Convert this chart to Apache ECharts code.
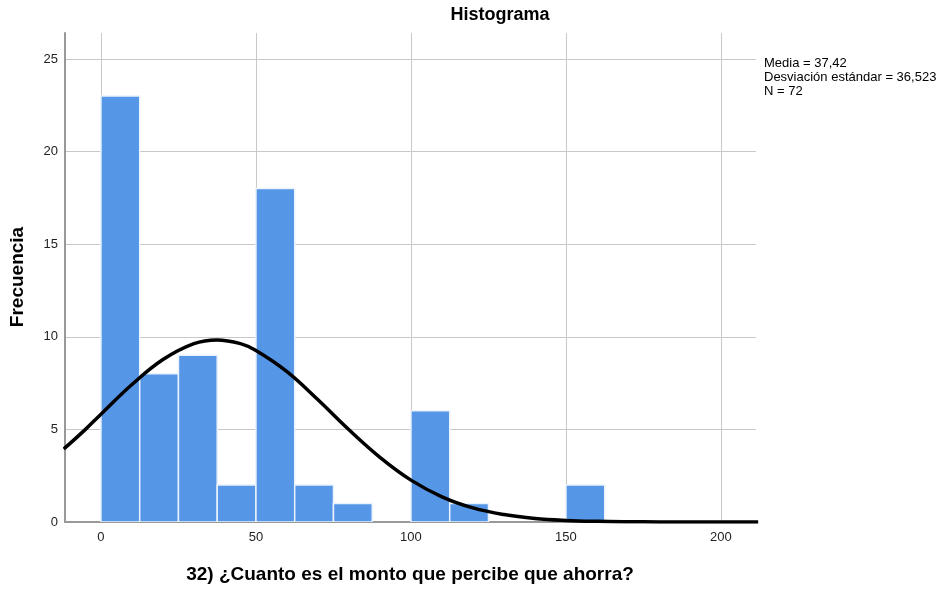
<!DOCTYPE html>
<html>
<head>
<meta charset="utf-8">
<script src="https://cdn.jsdelivr.net/npm/echarts@6/dist/echarts.min.js"></script>
<style>html,body{margin:0;padding:0;background:#fff;}#c{width:942px;height:590px;}</style>
</head>
<body>
<div id="c"></div>
<script>
var binEdges = [0, 12.5, 25, 37.5, 50, 62.5, 75, 87.5, 100, 112.5, 125, 137.5, 150, 162.5];
var counts = [23, 8, 9, 2, 18, 2, 1, 0, 6, 1, 0, 0, 2];
var xTicks = [0, 50, 100, 150, 200];
var yTicks = [0, 5, 10, 15, 20, 25];
var curveX = [-12, -5, 0, 10, 20, 30, 37.4, 45, 50, 60, 70, 80, 90, 100, 110, 120, 130, 140, 150, 160, 170, 180, 200, 212];
var curveY = [3.94, 5.0, 5.82, 7.42, 8.77, 9.63, 9.83, 9.63, 9.26, 8.12, 6.60, 4.98, 3.49, 2.26, 1.36, 0.76, 0.40, 0.19, 0.085, 0.035, 0.013, 0.005, 0.0, 0.0];
var statsLines = ['Media = 37,42', 'Desviación estándar = 36,523', 'N = 72'];
var titleText = 'Histograma';
var xName = '32) ¿Cuanto es el monto que percibe que ahorra?';
var yName = 'Frecuencia';

var barData = [];
for (var i = 0; i < counts.length; i++) {
  if (counts[i] > 0) barData.push([binEdges[i], binEdges[i + 1], counts[i]]);
}
var curveData = curveX.map(function (x, i) { return [x, curveY[i]]; });

var chart = echarts.init(document.getElementById('c'), null, {renderer: 'canvas'});
var font = 'Liberation Sans, Arial, sans-serif';
chart.setOption({
  animation: false,
  backgroundColor: '#fff',
  grid: {left: 65, right: 186, top: 33, bottom: 68, containLabel: false},
  xAxis: {
    type: 'value', min: -11.6, max: 211.3,
    axisLine: {show: true, onZero: false, lineStyle: {color: '#999', width: 2}},
    axisTick: {show: false, customValues: xTicks},
    axisLabel: {customValues: xTicks, color: '#222', fontSize: 13, fontFamily: font, margin: 9},
    splitLine: {show: true, lineStyle: {color: '#c8c8c8', width: 1}}
  },
  yAxis: {
    type: 'value', min: 0, max: 26.4,
    axisLine: {show: true, onZero: false, lineStyle: {color: '#999', width: 2}},
    axisTick: {show: false, customValues: yTicks},
    axisLabel: {customValues: yTicks, color: '#222', fontSize: 13, fontFamily: font, margin: 7},
    splitLine: {show: true, lineStyle: {color: '#c8c8c8', width: 1}}
  },
  graphic: [
    {type: 'text', x: 500, y: 6, style: {text: titleText, font: 'bold 18px ' + font, fill: '#000', textAlign: 'center'}},
    {type: 'text', x: 410, y: 565, style: {text: xName, font: 'bold 19px ' + font, fill: '#000', textAlign: 'center'}},
    {type: 'text', x: 8, y: 277, rotation: Math.PI / 2, style: {text: yName, font: 'bold 19px ' + font, fill: '#000', textAlign: 'center', textVerticalAlign: 'top'}},
    {type: 'text', x: 764, y: 56, style: {text: statsLines.join('\n'), font: '13px ' + font, lineHeight: 14, fill: '#000'}}
  ],
  series: [
    {
      type: 'custom',
      data: barData,
      clip: true,
      renderItem: function (params, api) {
        var p0 = api.coord([api.value(0), api.value(2)]);
        var p1 = api.coord([api.value(1), 0]);
        return {
          type: 'rect',
          shape: {x: p0[0], y: p0[1], width: p1[0] - p0[0], height: p1[1] - p0[1]},
          style: {fill: '#5596e6', stroke: '#eaf2fc', lineWidth: 1.5}
        };
      },
      encode: {x: [0, 1], y: 2},
      z: 2
    },
    {
      type: 'line',
      data: curveData,
      smooth: 0.4,
      showSymbol: false,
      symbol: 'none',
      clip: true,
      lineStyle: {color: '#000', width: 3.5},
      z: 3
    }
  ]
});
</script>
</body>
</html>
